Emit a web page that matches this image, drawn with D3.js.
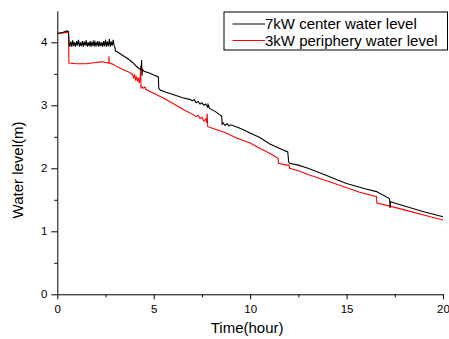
<!DOCTYPE html>
<html>
<head>
<meta charset="utf-8">
<script src="https://cdn.jsdelivr.net/npm/d3@7"></script>
<style>
  body { margin: 0; background: #fff; }
  svg { display: block; font-family: Arial, "Liberation Sans", sans-serif; }
</style>
</head>
<body>
<div id="chart"></div>
<script>
// [hour, water level (m)]
const centerLevel = [
  [0, 4.14], [0.3, 4.16], [0.5, 4.18], [0.58, 4.17], [0.62, 3.95],
  [0.65, 3.94], [0.7, 4.01], [0.75, 3.93], [0.8, 4.03], [0.85, 3.94], [0.9, 4.0],
  [0.95, 3.93], [1.0, 4.02], [1.05, 3.95], [1.1, 4.04], [1.15, 3.93], [1.2, 4.0],
  [1.25, 3.94], [1.3, 4.02], [1.35, 3.93], [1.4, 4.01], [1.45, 3.95], [1.5, 4.03],
  [1.55, 3.93], [1.6, 4.0], [1.65, 3.94], [1.7, 4.02], [1.75, 3.93], [1.8, 4.01],
  [1.85, 3.94], [1.9, 4.03], [1.95, 3.93], [2.0, 4.0], [2.05, 3.95], [2.1, 4.02],
  [2.15, 3.93], [2.2, 4.01], [2.25, 3.94], [2.3, 4.0], [2.35, 3.93], [2.4, 4.02],
  [2.45, 3.94], [2.5, 4.04], [2.55, 3.93], [2.6, 4.01], [2.65, 3.94], [2.7, 4.05],
  [2.75, 3.93], [2.8, 4.01], [2.85, 3.95], [2.9, 4.04], [2.95, 3.94],
  [2.98, 3.93], [3.02, 3.86], [3.1, 3.85], [3.3, 3.81], [3.5, 3.77], [3.7, 3.73],
  [3.9, 3.68], [4.1, 3.62], [4.25, 3.58], [4.35, 3.57], [4.37, 3.72], [4.39, 3.47],
  [4.42, 3.57], [4.5, 3.54], [4.8, 3.51], [5.0, 3.48], [5.24, 3.45], [5.26, 3.27],
  [5.35, 3.24], [5.6, 3.21], [6.0, 3.17], [6.5, 3.12], [6.9, 3.09],
  [7.0, 3.07], [7.1, 3.09], [7.2, 3.04], [7.3, 3.06], [7.4, 3.02], [7.5, 3.04],
  [7.6, 3.0], [7.7, 3.02], [7.8, 2.97], [7.82, 3.01], [7.9, 2.95], [8.2, 2.9],
  [8.52, 2.83], [8.55, 2.7], [8.6, 2.72], [8.7, 2.68], [8.8, 2.71], [8.9, 2.67],
  [9.0, 2.69], [9.5, 2.63], [10.0, 2.56], [10.5, 2.49], [11.0, 2.39], [11.5, 2.32],
  [11.95, 2.26], [12.0, 2.1], [12.05, 2.08], [12.5, 2.05], [13.0, 2.0], [13.5, 1.94],
  [14.0, 1.88], [14.56, 1.81], [15.0, 1.76], [15.68, 1.7], [16.0, 1.67], [16.55, 1.63],
  [17.22, 1.52], [17.24, 1.47], [17.26, 1.37], [17.28, 1.47], [18.0, 1.4],
  [19.0, 1.31], [20.0, 1.23]
];

const peripheryLevel = [
  [0, 4.14], [0.3, 4.15], [0.58, 4.16], [0.6, 3.67], [1.0, 3.66], [1.5, 3.66],
  [2.0, 3.68], [2.3, 3.69], [2.67, 3.67], [2.68, 3.78], [2.69, 3.67], [2.9, 3.65],
  [3.1, 3.61], [3.4, 3.57], [3.7, 3.53], [3.9, 3.49], [3.95, 3.44], [4.0, 3.48],
  [4.05, 3.41], [4.1, 3.46], [4.15, 3.38], [4.2, 3.44], [4.25, 3.35], [4.3, 3.45],
  [4.32, 3.62], [4.34, 3.28], [4.38, 3.3], [4.45, 3.27], [4.55, 3.29], [4.6, 3.25],
  [4.8, 3.22], [5.2, 3.16], [5.6, 3.1], [6.0, 3.03], [6.6, 2.92], [7.0, 2.86],
  [7.2, 2.82], [7.3, 2.84], [7.4, 2.79], [7.5, 2.81], [7.6, 2.75], [7.7, 2.78],
  [7.75, 2.72], [7.77, 2.87], [7.8, 2.66], [8.0, 2.64], [8.7, 2.57], [9.3, 2.48],
  [10.0, 2.4], [10.5, 2.32], [11.0, 2.24], [11.45, 2.16], [11.47, 2.08], [11.9, 2.05],
  [12.02, 2.05], [12.05, 2.0], [12.5, 1.96], [13.0, 1.9], [14.0, 1.8], [14.56, 1.74],
  [15.0, 1.69], [15.68, 1.62], [16.55, 1.55], [16.57, 1.45], [17.24, 1.4],
  [18.0, 1.34], [19.0, 1.26], [20.0, 1.18]
];

const seriesNames = ['7kW center water level', '3kW periphery water level'];
const seriesColors = ['#000000', '#ff0000'];
const xTicks = [0, 5, 10, 15, 20];
const xMinorTicks = [2.5, 7.5, 12.5, 17.5];
const yTicks = [0, 1, 2, 3, 4];
const yMinorTicks = [0.5, 1.5, 2.5, 3.5];

const width = 449;
const height = 339;
const margin = { top: 10.8, right: 6, bottom: 44.7, left: 57.3 };
const w = width - margin.left - margin.right;
const h = height - margin.top - margin.bottom;

const svg = d3.select('#chart').append('svg')
  .attr('width', width)
  .attr('height', height);

const g = svg.append('g')
  .attr('transform', `translate(${margin.left},${margin.top})`);

const x = d3.scaleLinear().domain([0, 20]).range([0, w]);
const y = d3.scaleLinear().domain([0, 4.5]).range([h, 0]);

// axes
g.append('g')
  .attr('transform', `translate(0,${h})`)
  .call(d3.axisBottom(x).tickValues(xTicks).tickSize(5).tickPadding(6).tickSizeOuter(0));
g.append('g')
  .attr('transform', `translate(0,${h})`)
  .call(d3.axisBottom(x).tickValues(xMinorTicks).tickSize(3).tickFormat('').tickSizeOuter(0))
  .call(a => a.select('.domain').remove());

g.append('g')
  .call(d3.axisLeft(y).tickValues(yTicks).tickFormat(d3.format('d')).tickSize(6).tickPadding(4).tickSizeOuter(0));
g.append('g')
  .call(d3.axisLeft(y).tickValues(yMinorTicks).tickSize(3).tickFormat('').tickSizeOuter(0))
  .call(a => a.select('.domain').remove());

g.selectAll('.tick text')
  .style('font-family', 'Arial, "Liberation Sans", sans-serif')
  .style('font-size', '11.5px')
  .attr('fill', '#000');
g.selectAll('.domain, .tick line').attr('stroke', '#000');

// lines, black drawn last so it sits over red where they meet
const line = d3.line()
  .x(d => x(d[0]))
  .y(d => y(d[1]));

[peripheryLevel, centerLevel].forEach((data, i) => {
  g.append('path')
    .datum(data)
    .attr('fill', 'none')
    .attr('stroke', seriesColors[1 - i])
    .attr('stroke-width', 1.1)
    .attr('d', line);
});

// axis titles
svg.append('text')
  .attr('x', margin.left + w / 2 - 3)
  .attr('y', 333)
  .attr('text-anchor', 'middle')
  .style('font-size', '15px')
  .text('Time(hour)');

svg.append('text')
  .attr('transform', 'translate(23,170) rotate(-90)')
  .attr('text-anchor', 'middle')
  .style('font-size', '15px')
  .text('Water level(m)');

// legend
const legend = svg.append('g').attr('transform', 'translate(224,12)');
legend.append('rect')
  .attr('width', 223.5)
  .attr('height', 38)
  .attr('fill', '#fff')
  .attr('stroke', '#000')
  .attr('stroke-width', 1);

seriesNames.forEach((name, i) => {
  const row = legend.append('g').attr('transform', `translate(0,${12 + i * 16.5})`);
  row.append('line')
    .attr('x1', 8.5).attr('x2', 41)
    .attr('y1', 0).attr('y2', 0)
    .attr('stroke', seriesColors[i])
    .attr('stroke-width', 1);
  row.append('text')
    .attr('x', 41)
    .attr('y', 5)
    .style('font-size', '15px')
    .text(name);
});
</script>
</body>
</html>
